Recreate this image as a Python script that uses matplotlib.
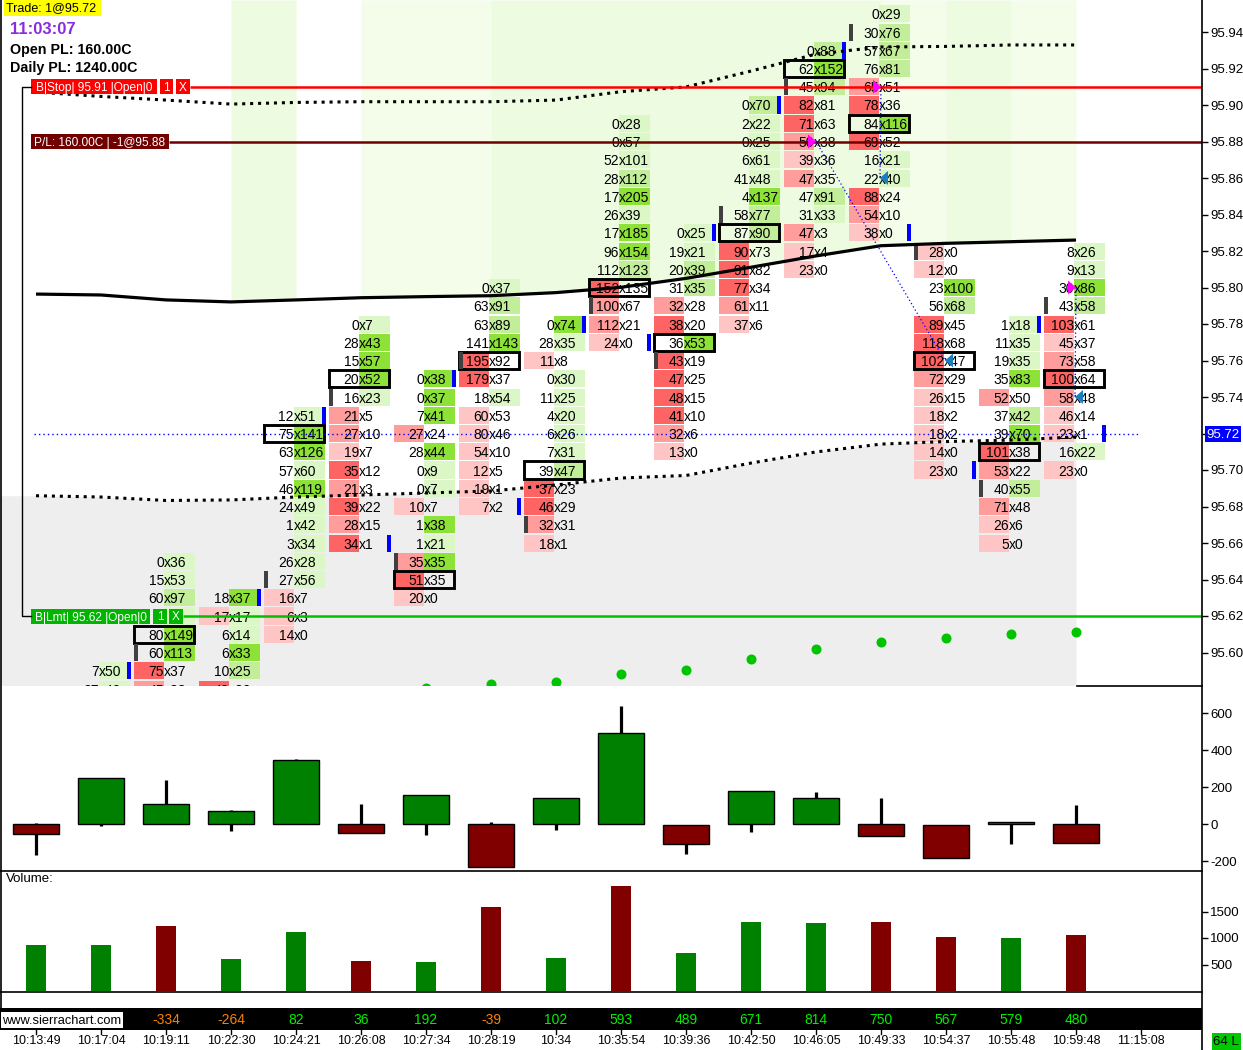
import numpy as np
import matplotlib
matplotlib.use("Agg")
import matplotlib.pyplot as plt
from matplotlib.patches import Rectangle, Polygon
from matplotlib.lines import Line2D
import matplotlib.transforms as mtrans

plt.rcParams['font.family'] = ['Liberation Sans', 'DejaVu Sans']
plt.rcParams['axes.unicode_minus'] = False

# ---------------- data ----------------
times = ["10:13:49", "10:17:04", "10:19:11", "10:22:30", "10:24:21", "10:26:08",
         "10:27:34", "10:28:19", "10:34", "10:35:54", "10:39:36", "10:42:50",
         "10:46:05", "10:49:33", "10:54:37", "10:55:48", "10:59:48", "11:15:08"]

# footprint: highest price of each column, then bid / ask volumes going down one tick per row
fp_top = [None, 95.59, 95.65, 95.63, 95.73, 95.78, 95.75, 95.80, 95.78, 95.89,
          95.83, 95.90, 95.93, 95.95, 95.82, 95.78, 95.82]
fp_bid = [
    [],
    [7, 27],
    [0, 15, 60, 63, 80, 60, 75, 45],
    [18, 17, 6, 6, 10, 40],
    [12, 75, 63, 57, 46, 24, 1, 3, 26, 27, 16, 6, 14],
    [0, 28, 15, 20, 16, 21, 27, 19, 35, 21, 39, 28, 34],
    [0, 0, 7, 27, 28, 0, 0, 10, 1, 1, 35, 51, 20],
    [0, 63, 63, 141, 195, 179, 18, 60, 80, 54, 12, 19, 7],
    [0, 28, 11, 0, 11, 4, 6, 7, 39, 37, 46, 32, 18],
    [0, 0, 52, 28, 17, 26, 17, 96, 112, 152, 100, 112, 24],
    [0, 19, 20, 31, 32, 38, 36, 43, 47, 48, 41, 32, 13],
    [0, 2, 0, 6, 41, 4, 58, 87, 90, 91, 77, 61, 37],
    [0, 62, 45, 82, 71, 50, 39, 47, 47, 31, 47, 17, 23],
    [0, 30, 57, 76, 65, 78, 84, 69, 16, 22, 88, 54, 38],
    [28, 12, 23, 56, 89, 118, 102, 72, 26, 18, 18, 14, 23],
    [1, 11, 19, 35, 52, 37, 39, 101, 53, 40, 71, 26, 5],
    [8, 9, 30, 43, 103, 45, 73, 100, 58, 46, 23, 16, 23],
]
fp_ask = [
    [],
    [50, 49],
    [36, 53, 97, 71, 149, 113, 37, 38],
    [37, 17, 14, 33, 25, 20],
    [51, 141, 126, 60, 119, 49, 42, 34, 28, 56, 7, 3, 0],
    [7, 43, 57, 52, 23, 5, 10, 7, 12, 3, 22, 15, 1],
    [38, 37, 41, 24, 44, 9, 7, 7, 38, 21, 35, 35, 0],
    [37, 91, 89, 143, 92, 37, 54, 53, 46, 10, 5, 1, 2],
    [74, 35, 8, 30, 25, 20, 26, 31, 47, 23, 29, 31, 1],
    [28, 57, 101, 112, 205, 39, 185, 154, 123, 135, 67, 21, 0],
    [25, 21, 39, 35, 28, 20, 53, 19, 25, 15, 10, 6, 0],
    [70, 22, 25, 61, 48, 137, 77, 90, 73, 82, 34, 11, 6],
    [88, 152, 94, 81, 63, 38, 36, 35, 91, 33, 3, 4, 0],
    [29, 76, 67, 81, 51, 36, 116, 52, 21, 40, 24, 10, 0],
    [0, 0, 100, 68, 45, 68, 47, 29, 15, 2, 2, 0, 0],
    [18, 35, 35, 83, 50, 42, 70, 38, 22, 55, 48, 6, 0],
    [26, 13, 86, 58, 61, 37, 58, 64, 48, 14, 1, 22, 0],
]
# column maxima for columns that extend below the visible range (estimated)
col_max_override = {1: (60, 120)}
# cells whose numbers are covered by an order label (column, price)
covered_cells = {(2, 95.62)}

poc_price = [None, None, 95.61, None, 95.72, 95.75, 95.64, 95.76, 95.70, 95.80,
             95.77, 95.83, 95.92, 95.89, 95.76, 95.71, 95.75]
open_price = [None, None, 95.60, None, 95.64, 95.74, 95.65, 95.76, 95.67, 95.79,
              95.76, 95.84, 95.91, 95.94, 95.82, 95.69, 95.79]
close_price = [None, 95.59, None, 95.63, 95.73, 95.66, 95.75, 95.68, 95.78, 95.77,
               95.83, 95.90, 95.93, 95.83, 95.70, 95.78, 95.72]

# studies (price per bar)
vwap = [95.7964, 95.7959, 95.7932, 95.7921, 95.7932, 95.7944, 95.7950, 95.7955, 95.7972,
        95.8001, 95.8050, 95.8111, 95.8173, 95.8229, 95.8242, 95.8251, 95.8260]
band_up = [95.9071, 95.9047, 95.9027, 95.9005, 95.9014, 95.9018, 95.9018, 95.9018, 95.9027,
           95.9073, 95.9099, 95.9186, 95.9279, 95.9318, 95.9321, 95.9329, 95.9329]
band_dn = [95.6859, 95.6852, 95.6833, 95.6836, 95.6852, 95.6863, 95.6874, 95.6885, 95.6918,
           95.6956, 95.6970, 95.7038, 95.7099, 95.7142, 95.7156, 95.7164, 95.7181]
dots = [None, None, None, None, None, None, 95.5808, 95.5827, 95.5836, 95.5884, 95.5906,
        95.5962, 95.6017, 95.6058, 95.6080, 95.6101, 95.6112]

# trades: (entry col, entry price, exit col, exit price)
trades = [(12, 95.88, 14, 95.76), (13, 95.91, 13, 95.86), (16, 95.80, 16, 95.74)]

last_price = 95.72
stop_price = 95.91
pos_price = 95.88
limit_price = 95.62
open_pl = 160.00
daily_pl = 1240.00
clock = "11:03:07"

# delta candles
d_open = [0, 0, 0, 0, 0, 0, 0, 0, 0, 0, -5, 0, 0, 0, -5, 0, 0]
d_high = [5, 249, 240, 77, 351, 110, 156, 11, 141, 640, -5, 182, 175, 142, -5, 12, 104]
d_low = [-164, -7, 0, -34, 0, -46, -58, -231, -31, 0, -159, -40, 0, -64, -183, -104, -99]
d_close = [-50, 249, 108, 70, 346, -46, 156, -231, 141, 491, -104, 182, 143, -64, -183, 12, -99]

volume = [877, 877, 1217, 613, 1104, 575, 538, 1576, 632, 1972, 708, 1311, 1292, 1311, 1028, 1009, 1066]
bar_up = [1, 1, 0, 1, 1, 0, 1, 0, 1, 0, 1, 1, 1, 0, 0, 1, 0]

cum_delta_cols = list(range(2, 17))
cum_delta = [-334, -264, 82, 36, 192, -39, 102, 593, 489, 671, 814, 750, 567, 579, 480]

# ---------------- layout ----------------
W, H = 1243, 1050
fig = plt.figure(figsize=(W / 100, H / 100), dpi=100)
fig.patch.set_facecolor('white')


def fr(x0, y0, x1, y1):
    return [x0 / W, 1 - y1 / H, (x1 - x0) / W, (y1 - y0) / H]


PXP = 1825.0  # pixels per 1.00 of price
ax = fig.add_axes(fr(0, 0, 1202, 686))
ax.set_xlim(-34 / 65, 1168 / 65)
ybot, ytop = 95.62 - 70 / PXP, 95.62 + 616 / PXP
ax.set_ylim(ybot, ytop)
for s in ax.spines.values():
    s.set_visible(False)
ax.set_xticks([])
ax.yaxis.tick_right()
yt = [round(95.60 + 0.02 * k, 2) for k in range(18)]
ax.set_yticks(yt)
ax.set_yticklabels([("" if abs(v - last_price) < 1e-9 else f"{v:.2f}") for v in yt])
ax.tick_params(axis='y', length=4, width=1, pad=2, labelsize=9.5, colors='black')


def cx(px):
    return (px - 34) / 65.0


xs = np.arange(17)
xl = xs + 2 / 65.0
vw = np.array(vwap)

# background fills
green_spans = [(3, 4, '#edfbe0'), (5, 7, '#f3fde9'), (7, 13, '#edfbe0'),
               (13, 14, '#f3fde9'), (14, 15, '#edfbe0'), (15, 16, '#f3fde9')]
for a, b, colr in green_spans:
    ax.fill_between(xl[a:b + 1], vw[a:b + 1], ytop, color=colr, lw=0, zorder=0)
gx = np.r_[ax.get_xlim()[0], xl]
gy = np.r_[band_dn[0], band_dn]
ax.fill_between(gx, gy, ybot, color='#eeeeee', lw=0, zorder=0)

GREEN = ['#daf7c5', '#c2ee9a', '#8ce236']
RED = ['#ffc4c4', '#ff9c9c', '#ff6464']


def level(v, vmax):
    r = v / vmax if vmax else 0
    return 2 if r >= 0.75 else (1 if r >= 0.5 else 0)


ch = 17 / PXP
bw, aw = 30 / 65, 31 / 65
for i in range(17):
    bids, asks = fp_bid[i], fp_ask[i]
    if not bids:
        continue
    bmax, amax = max(bids), max(asks)
    if i in col_max_override:
        bmax, amax = col_max_override[i]
    for k, (b, a) in enumerate(zip(bids, asks)):
        p = round(fp_top[i] - 0.01 * k, 2)
        if b >= a:
            ax.add_patch(Rectangle((i - bw, p - ch / 2), bw, ch, fc=RED[level(b, bmax)], lw=0, zorder=1))
        if a >= b:
            ax.add_patch(Rectangle((i, p - ch / 2), aw, ch, fc=GREEN[level(a, amax)], lw=0, zorder=1))
        if (i, p) in covered_cells:
            continue
        ax.text(i, p, f"{b}", ha='right', va='center_baseline', fontsize=10, zorder=3, clip_on=True)
        ax.text(i, p, f"x{a}", ha='left', va='center_baseline', fontsize=10, zorder=3, clip_on=True)
    if poc_price[i] is not None:
        ax.add_patch(Rectangle((i - 30 / 65, poc_price[i] - 8.5 / PXP), 60 / 65, 17 / PXP,
                               fc='none', ec='black', lw=2.1, zorder=2.5))
    if open_price[i] is not None:
        ax.add_patch(Rectangle((i - 30 / 65, open_price[i] - ch / 2), 4 / 65, ch,
                               fc='#404040', lw=0, zorder=2.6))
    if close_price[i] is not None:
        ax.add_patch(Rectangle((i + 28 / 65, close_price[i] - ch / 2), 4 / 65, ch,
                               fc='#0000ff', lw=0, zorder=2.6))

# studies
ax.plot(xl, vwap, color='black', lw=2.3, zorder=4, solid_capstyle='butt')
for band in (band_up, band_dn):
    ax.plot(xl, band, color='black', lw=2.2, ls=(0, (1, 1.6)), zorder=4)
dx = [xl[i] for i in range(17) if dots[i] is not None]
dy = [d for d in dots if d is not None]
ax.plot(dx, dy, 'o', color='#00c400', ms=6.2, mec='#00c400', zorder=4, clip_on=True)

# current price line
ax.plot([0, 17.02], [last_price, last_price], color='#0000ff', lw=1, ls=(0, (1, 2.2)), zorder=4)

# order lines
ax.plot([cx(190), cx(1202)], [stop_price] * 2, color='#ff0000', lw=1.8, zorder=5, solid_capstyle='butt')
ax.plot([cx(169), cx(1202)], [pos_price] * 2, color='#700000', lw=1.8, zorder=5, solid_capstyle='butt')
ax.plot([cx(183), cx(1202)], [limit_price] * 2, color='#00c000', lw=1.8, zorder=5, solid_capstyle='butt')

# trades
for ec, ep, xc, xp in trades:
    ax.plot([ec + 2 / 65, xc + 1 / 65], [ep, xp], color='#0000ff', lw=0.9, ls=(0, (1, 2)), zorder=5.5)
    ax.add_patch(Polygon([(ec - 6 / 65, ep + 7 / PXP), (ec - 6 / 65, ep - 7 / PXP), (ec + 2 / 65, ep)],
                         closed=True, fc='#ff00ff', lw=0, zorder=6))
    ax.add_patch(Polygon([(xc + 1 / 65, xp), (xc + 9 / 65, xp + 7 / PXP), (xc + 9 / 65, xp - 7 / PXP)],
                         closed=True, fc='#1a7fc0', lw=0, zorder=6))

# ---------------- delta panel ----------------
axd = fig.add_axes(fr(0, 686, 1202, 870))
axd.set_xlim(-36 / 65, 1166 / 65)
axd.set_ylim(-(870 - 824.3) * 5.405, (824.3 - 686) * 5.405)
for s in axd.spines.values():
    s.set_visible(False)
axd.set_xticks([])
axd.yaxis.tick_right()
axd.set_yticks([600, 400, 200, 0, -200])
axd.tick_params(axis='y', length=4, width=1, pad=2, labelsize=9.5)
for i in range(17):
    o, h, l, c = d_open[i], d_high[i], d_low[i], d_close[i]
    axd.plot([i, i], [l, h], color='black', lw=2.3, solid_capstyle='butt', zorder=2)
    up = c >= o
    lo, hh = min(o, c), max(abs(c - o), 5)
    axd.add_patch(Rectangle((i - 23 / 65, lo), 46 / 65, hh, fc='#008000' if up else '#800000',
                            ec='black', lw=1, zorder=3))

# ---------------- volume panel ----------------
axv = fig.add_axes(fr(0, 870, 1202, 991))
axv.set_xlim(-36 / 65, 1166 / 65)
axv.set_ylim(0, (991 - 870) / 26.5 * 500)
for s in axv.spines.values():
    s.set_visible(False)
axv.set_xticks([])
axv.yaxis.tick_right()
axv.set_yticks([500, 1000, 1500])
axv.tick_params(axis='y', length=4, width=1, pad=2, labelsize=9.5)
axv.bar(xs, volume, width=20 / 65, color=['#008000' if u else '#800000' for u in bar_up], lw=0)

# ---------------- overlay (pixel coordinates) ----------------
ov = fig.add_axes([0, 0, 1, 1])
ov.set_zorder(10)
ov.set_xlim(0, W)
ov.set_ylim(H, 0)
ov.axis('off')
ov.patch.set_alpha(0)
bt = mtrans.blended_transform_factory(ov.transData, ax.transData)

# frame lines
for (x0, y0, x1, y1) in [(0.5, 0, 0.5, 1008), (1202.5, 0, 1202.5, 1050), (1077, 686, 1202, 686),
                         (0, 870.5, 1202, 870.5), (0, 991.5, 1202, 991.5)]:
    ov.add_line(Line2D([x0, x1], [y0, y1], color='black', lw=1.2))

# top-left info
ov.add_patch(Rectangle((4, 0), 97, 16, fc='#ffff00', lw=0))
ov.text(6, 8.5, f"Trade: 1@{last_price:.2f}", fontsize=9, va='center', ha='left')
ov.text(10, 30, clock, fontsize=12, fontweight='bold', color='#8a2be2', va='center', ha='left')
ov.text(10, 50, f"Open PL: {open_pl:.2f}C", fontsize=10.3, fontweight='bold', va='center', ha='left')
ov.text(10, 68, f"Daily PL: {daily_pl:.2f}C", fontsize=10.3, fontweight='bold', va='center', ha='left')


def order_label(price, segs, color):
    hh = 15 / PXP
    for x0, x1, txt in segs:
        ov.add_patch(Rectangle((x0, price - hh / 2), x1 - x0, hh, fc=color, lw=0, transform=bt, clip_on=False))
        ov.text((x0 + x1) / 2, price, txt, transform=bt, color='white', fontsize=8.6,
                ha='center', va='center_baseline', clip_on=False)


order_label(stop_price, [(31, 157, f"B|Stop| {stop_price:.2f} |Open|0"), (160, 173, "1"), (176, 190, "X")], '#ff0000')
order_label(pos_price, [(31, 169, f"P/L: {open_pl:.2f}C | -1@{pos_price:.2f}")], '#700000')
order_label(limit_price, [(31, 150, f"B|Lmt| {limit_price:.2f} |Open|0"), (153, 167, "1"), (169, 183, "X")], '#00b400')

# bracket line between the two orders
ov.add_line(Line2D([31, 22, 22, 31], [stop_price, stop_price, limit_price, limit_price],
                   color='black', lw=1, transform=bt))

# last price on axis
ov.add_patch(Rectangle((1205, last_price - 8 / PXP), 36, 16 / PXP, fc='#0000ff', lw=0, transform=bt))
ov.text(1223, last_price, f"{last_price:.2f}", transform=bt, color='white', fontsize=9.5,
        ha='center', va='center_baseline')

ov.text(6, 879, "Volume:", fontsize=9.5, ha='left', va='center')

# bottom bar
ov.add_patch(Rectangle((0, 1008), 1202, 22, fc='black', lw=0))
ov.add_patch(Rectangle((1, 1012), 122, 16, fc='white', lw=0))
ov.text(2, 1020.5, "www.sierrachart.com", fontsize=9.3, ha='left', va='center')
for i, v in zip(cum_delta_cols, cum_delta):
    ov.text(36 + 65 * i, 1020.5, f"{v}", fontsize=10, ha='center', va='center',
            color='#ff8000' if v < 0 else '#00f000')
for i, t in enumerate(times):
    xp = 36 + 65 * i
    ov.add_line(Line2D([xp, xp], [1030, 1034], color='black', lw=1))
    ov.text(xp, 1041, t, fontsize=9, ha='center', va='center')

ov.add_patch(Rectangle((1212, 1033), 29, 17, fc='#00c800', lw=0))
ov.text(1226, 1042, "64 L", fontsize=9.5, ha='center', va='center')

fig.savefig("out.png", dpi=100)
